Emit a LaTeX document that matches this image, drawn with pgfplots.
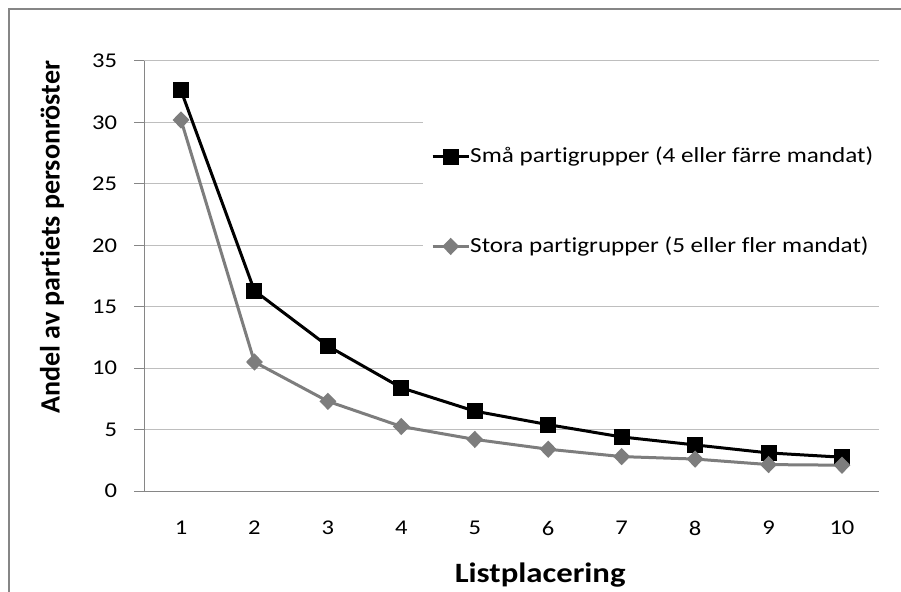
\documentclass[border=0pt]{standalone}
\usepackage{fontspec}
\setmainfont{Carlito}[FakeStretch=1.17, Ligatures={NoCommon}]
\newfontfamily\ylabfont{Carlito}[Ligatures={NoCommon}]
\usepackage{pgfplots}
\pgfplotsset{compat=1.18}
\definecolor{gridgray}{RGB}{190,190,190}
\definecolor{axisgray}{RGB}{134,134,134}
\definecolor{seriesgray}{RGB}{125,125,125}
\begin{document}
\fontsize{21bp}{25bp}\selectfont
\begin{tikzpicture}
\path[use as bounding box] (0bp,0bp) rectangle (901bp,592bp);
\draw[color=axisgray, line width=1.3bp] (9bp,-2bp) -- (9bp,583bp) -- (903bp,583bp);
\begin{axis}[
  at={(144.3bp,101bp)}, anchor=south west,
  scale only axis, width=734.4bp, height=430bp,
  xmin=0.5, xmax=10.5, ymin=0, ymax=35,
  xtick={1,...,10}, ytick={0,5,...,35},
  axis lines*=left,
  axis line style={color=axisgray, line width=1bp},
  ymajorgrids, grid style={color=gridgray, line width=1bp},
  tick align=outside, major tick length=10bp,
  xtick style={draw=none},
  ytick style={color=axisgray, line width=1bp},
  /pgf/number format/assume math mode=true,
  ticklabel style={font=\fontsize{21bp}{25bp}\selectfont, inner sep=0pt},
  yticklabel style={anchor=east, xshift=-17bp},
  xticklabel style={anchor=north, yshift=-20bp},
  xlabel={\textbf{Listplacering}},
  ylabel={\ylabfont\bfseries Andel av partiets personröster},
  label style={font=\fontsize{28bp}{32bp}\selectfont},
  xlabel style={at={(axis description cs:0.539,-0.195)}, anchor=center},
  ylabel style={at={(axis description cs:-0.1257,0.59)}, anchor=center},
  legend style={at={(rel axis cs:0.3795,0.870)}, anchor=north west, draw=none, fill=white,
    inner xsep=8bp, inner ysep=30bp, row sep=71bp,
    font=\fontsize{21.5bp}{25bp}\selectfont,
    nodes={inner sep=0pt, anchor=west},
    /tikz/every even column/.append style={column sep=3bp}},
  legend cell align=left,
  legend image code/.code={\draw[mark repeat=2, mark phase=2] plot coordinates {(0bp,0bp) (18bp,0bp) (36bp,0bp)};},
]
\addplot[black, line width=3bp, mark=square*, mark size=6.5bp, mark options={solid}]
  coordinates {(1,32.6) (2,16.3) (3,11.8) (4,8.4) (5,6.5) (6,5.4) (7,4.4) (8,3.75) (9,3.1) (10,2.75)};
\addlegendentry{Små partigrupper (4 eller färre mandat)}
\addplot[seriesgray, line width=3bp, mark=diamond*, mark size=6.5bp, mark options={solid, xscale=1.3}]
  coordinates {(1,30.2) (2,10.5) (3,7.3) (4,5.25) (5,4.2) (6,3.4) (7,2.8) (8,2.6) (9,2.15) (10,2.1)};
\addlegendentry{Stora partigrupper (5 eller fler mandat)}
\end{axis}
\end{tikzpicture}
\end{document}
